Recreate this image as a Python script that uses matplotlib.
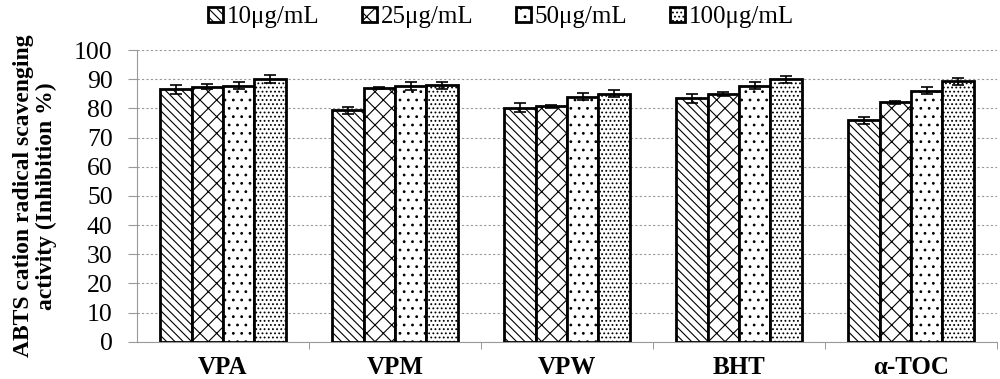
import matplotlib.pyplot as plt
import numpy as np

plt.rcParams['font.family'] = ['Liberation Serif', 'DejaVu Serif']
plt.rcParams['hatch.linewidth'] = 0.8

categories = ['VPA', 'VPM', 'VPW', 'BHT', 'α-TOC']
series = ['10μg/mL', '25μg/mL', '50μg/mL', '100μg/mL']
values = [
    [86.5, 79.3, 80.3, 83.4, 75.9],
    [87.5, 87.0, 80.7, 85.0, 82.1],
    [87.8, 87.7, 84.0, 87.8, 86.0],
    [90.0, 88.0, 85.0, 90.0, 89.3],
]
errors = [
    [1.5, 1.2, 1.5, 1.5, 1.2],
    [0.8, 0.5, 0.5, 0.6, 0.5],
    [1.2, 1.3, 1.2, 1.3, 1.2],
    [1.3, 1.2, 1.2, 1.2, 1.2],
]
hatches = ['\\\\\\\\', 'xx', '..', '....']

fig = plt.figure(figsize=(10, 3.79), dpi=100)
ax = fig.add_axes([0.137, 0.098, 0.86, 0.77])

x = np.arange(len(categories))
w = 0.183
for i in range(len(series)):
    ax.bar(x + (i - 1.5) * w, values[i], w, yerr=errors[i], color='white',
           edgecolor='black', linewidth=2, hatch=hatches[i], label=series[i],
           error_kw=dict(ecolor='black', elinewidth=1.2, capsize=4, capthick=1.2),
           zorder=3)

ax.set_xlim(-0.5, len(categories) - 0.5)
ax.set_ylim(0, 100)
ax.set_yticks(range(0, 101, 10))
ax.yaxis.grid(True, linestyle=(0, (2, 2)), color='#999999', linewidth=0.8, zorder=0)
ax.set_xticks(x)
ax.set_xticklabels(categories, fontsize=18, fontweight='bold')
ax.set_xticks(np.arange(0.5, len(categories), 1), minor=True)
ax.tick_params(axis='x', which='major', length=0, pad=10)
ax.tick_params(axis='x', which='minor', length=5, color='#888888', direction='out')
ax.tick_params(axis='y', labelsize=18.5, length=6.5, color='#999999', pad=11)
for s in ['top', 'right']:
    ax.spines[s].set_visible(False)
for s in ['left', 'bottom']:
    ax.spines[s].set_color('#999999')

ax.set_ylabel('ABTS cation radical scavenging\nactivity (Inhibition %)',
              fontsize=17, fontweight='bold', labelpad=12, linespacing=1.15)

ax.legend(loc='lower center', bbox_to_anchor=(0.423, 1.04), ncol=4, frameon=False,
          fontsize=18, handlelength=0.6, handleheight=0.6, handletextpad=0.15,
          columnspacing=1.7, borderaxespad=0)

fig.savefig('out.png', dpi=100)
